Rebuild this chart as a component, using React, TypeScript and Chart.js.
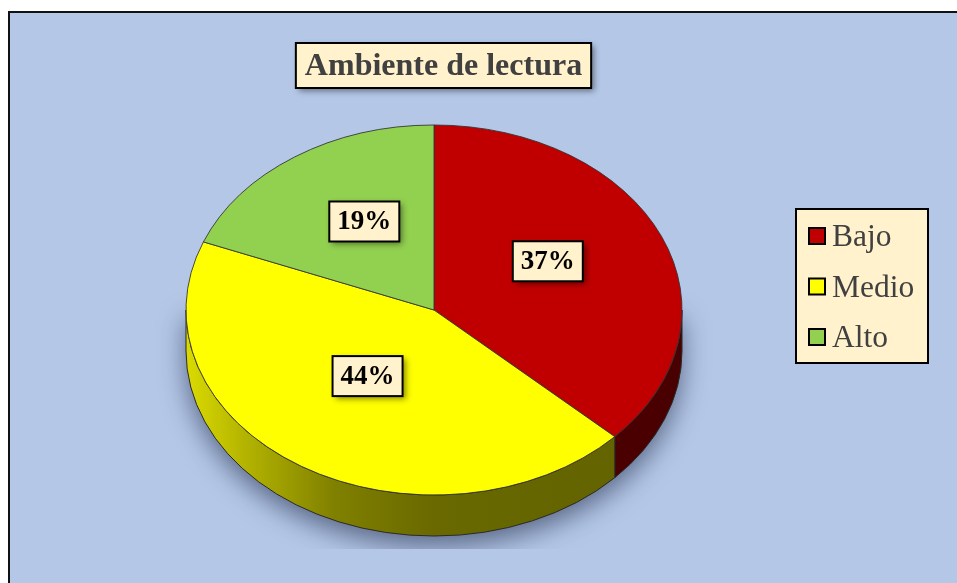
import React, { useEffect, useRef } from "react";
import { Chart, registerables } from "chart.js";

Chart.register(...registerables);

// ---- data ----
const categories = ["Bajo", "Medio", "Alto"];
const values = [37, 44, 19];
const percentLabels = ["37%", "44%", "19%"];
const sliceColors = ["#C00000", "#FFFF00", "#92D050"];
const chartTitle = "Ambiente de lectura";

// ---- styling ----
const W = 957;
const H = 583;
const TILT = 0.746; // vertical squash of the pie top
const DEPTH = 41; // thickness of the 3D pie
const SERIF = "'Liberation Serif', 'Times New Roman', serif";
const CREAM = "#FFF2CC";

function shade(hex: string, f: number): string {
  const n = parseInt(hex.slice(1), 16);
  const r = Math.round(((n >> 16) & 255) * f);
  const g = Math.round(((n >> 8) & 255) * f);
  const b = Math.round((n & 255) * f);
  return `rgb(${r},${g},${b})`;
}

function boxWithShadow(ctx: CanvasRenderingContext2D, x: number, y: number, w: number, h: number, shadow: boolean) {
  ctx.save();
  if (shadow) {
    ctx.shadowColor = "rgba(0,0,0,0.45)";
    ctx.shadowBlur = 6;
    ctx.shadowOffsetX = 3;
    ctx.shadowOffsetY = 3;
  }
  ctx.fillStyle = CREAM;
  ctx.fillRect(x, y, w, h);
  ctx.restore();
  ctx.save();
  ctx.strokeStyle = "#000";
  ctx.lineWidth = 2;
  ctx.strokeRect(x, y, w, h);
  ctx.restore();
}

const pie3d = {
  id: "pie3d",
  beforeDraw(chart: any) {
    const ctx: CanvasRenderingContext2D = chart.ctx;
    ctx.save();
    ctx.fillStyle = "#ffffff";
    ctx.fillRect(0, 0, W, H);
    ctx.fillStyle = "#B4C7E7";
    ctx.fillRect(8, 11, W, H);
    ctx.strokeStyle = "#111";
    ctx.lineWidth = 2;
    ctx.beginPath();
    ctx.moveTo(9, H);
    ctx.lineTo(9, 12);
    ctx.lineTo(W, 12);
    ctx.stroke();
    ctx.restore();
  },
  beforeDatasetsDraw(chart: any) {
    const ctx: CanvasRenderingContext2D = chart.ctx;
    const arcs = chart.getDatasetMeta(0).data;
    const a0 = arcs[0];
    const cx = a0.x, cy = a0.y, rx = a0.outerRadius, ry = rx * TILT;

    // soft shadow under the pie: only the shadow is painted (shape kept off-canvas)
    const OFF = 3000;
    ctx.save();
    ctx.beginPath();
    ctx.rect(0, 0, W, 549);
    ctx.clip();
    ctx.shadowColor = "rgba(30,40,70,0.6)";
    ctx.shadowBlur = 26;
    ctx.shadowOffsetX = OFF;
    ctx.shadowOffsetY = 10;
    ctx.fillStyle = "#000";
    ctx.beginPath();
    ctx.moveTo(cx + rx - OFF, cy);
    ctx.lineTo(cx + rx - OFF, cy + DEPTH);
    ctx.ellipse(cx - OFF, cy + DEPTH, rx, ry, 0, 0, Math.PI);
    ctx.lineTo(cx - rx - OFF, cy);
    ctx.closePath();
    ctx.fill();
    ctx.restore();

    // sides of the slices (visible front half)
    arcs.forEach((arc: any, i: number) => {
      const s = arc.startAngle, e = arc.endAngle;
      const color = sliceColors[i % sliceColors.length];
      for (const k of [-1, 0, 1]) {
        const lo = Math.max(s + k * 2 * Math.PI, 0);
        const hi = Math.min(e + k * 2 * Math.PI, Math.PI);
        if (hi <= lo) continue;
        const grad = ctx.createLinearGradient(cx - rx, 0, cx + rx, 0);
        grad.addColorStop(0, shade(color, 0.86));
        grad.addColorStop(0.12, shade(color, 0.7));
        grad.addColorStop(0.3, shade(color, 0.5));
        grad.addColorStop(0.5, shade(color, 0.41));
        grad.addColorStop(1, shade(color, 0.38));
        ctx.save();
        ctx.beginPath();
        ctx.ellipse(cx, cy, rx, ry, 0, lo, hi);
        ctx.ellipse(cx, cy + DEPTH, rx, ry, 0, hi, lo, true);
        ctx.closePath();
        ctx.fillStyle = grad;
        ctx.fill();
        ctx.strokeStyle = "#2a2a2a";
        ctx.lineWidth = 1;
        ctx.stroke();
        ctx.restore();
      }
    });

    // squash the library-drawn top face into an ellipse
    ctx.save();
    ctx.translate(0, cy);
    ctx.scale(1, TILT);
    ctx.translate(0, -cy);
  },
  afterDatasetsDraw(chart: any) {
    const ctx: CanvasRenderingContext2D = chart.ctx;
    ctx.restore();
    const arcs = chart.getDatasetMeta(0).data;
    arcs.forEach((arc: any, i: number) => {
      const rx = arc.outerRadius, ry = rx * TILT;
      const mid = (arc.startAngle + arc.endAngle) / 2;
      const lx = arc.x + 0.5 * rx * Math.cos(mid);
      const ly = arc.y + 0.5 * ry * Math.sin(mid) - 12;
      const bw = 70, bh = 40;
      boxWithShadow(ctx, lx - bw / 2, ly - bh / 2, bw, bh, true);
      ctx.save();
      ctx.fillStyle = "#000";
      ctx.font = `bold 27px ${SERIF}`;
      ctx.textAlign = "center";
      ctx.textBaseline = "middle";
      ctx.fillText(percentLabels[i], lx, ly + 1);
      ctx.restore();
    });
  },
  afterDraw(chart: any) {
    const ctx: CanvasRenderingContext2D = chart.ctx;
    // title
    ctx.save();
    ctx.font = `bold 32px ${SERIF}`;
    const tw = ctx.measureText(chartTitle).width;
    const tcx = 443.5;
    const bw = tw + 18;
    boxWithShadow(ctx, tcx - bw / 2, 43, bw, 45, true);
    ctx.fillStyle = "#404040";
    ctx.textAlign = "center";
    ctx.textBaseline = "middle";
    ctx.fillText(chartTitle, tcx, 66.5);
    ctx.restore();

    // legend
    ctx.save();
    boxWithShadow(ctx, 796, 209, 132, 154, false);
    categories.forEach((c, i) => {
      const yc = 236 + i * 50.5;
      ctx.fillStyle = sliceColors[i];
      ctx.fillRect(809, yc - 8, 16, 16);
      ctx.strokeStyle = "#000";
      ctx.lineWidth = 2;
      ctx.strokeRect(809, yc - 8, 16, 16);
      ctx.fillStyle = "#404040";
      ctx.font = `31.5px ${SERIF}`;
      ctx.textAlign = "left";
      ctx.textBaseline = "middle";
      ctx.fillText(c, 832, yc + 2);
    });
    ctx.restore();
  },
};

export default function App() {
  const ref = useRef<HTMLCanvasElement | null>(null);
  useEffect(() => {
    document.body.style.margin = "0";
    const chart = new Chart(ref.current as HTMLCanvasElement, {
      type: "pie",
      data: {
        labels: categories,
        datasets: [
          {
            data: values,
            backgroundColor: sliceColors,
            borderColor: "#333333",
            borderWidth: 1,
          },
        ],
      },
      options: {
        responsive: false,
        animation: false,
        radius: 248,
        layout: { padding: { left: 0, right: 89, top: 37, bottom: 0 } },
        plugins: {
          legend: { display: false },
          tooltip: { enabled: false },
          title: { display: false },
        },
      } as any,
      plugins: [pie3d as any],
    });
    return () => chart.destroy();
  }, []);
  return (
    <div style={{ width: W, height: H }}>
      <canvas ref={ref} width={W} height={H} style={{ display: "block", width: W, height: H }} />
    </div>
  );
}
